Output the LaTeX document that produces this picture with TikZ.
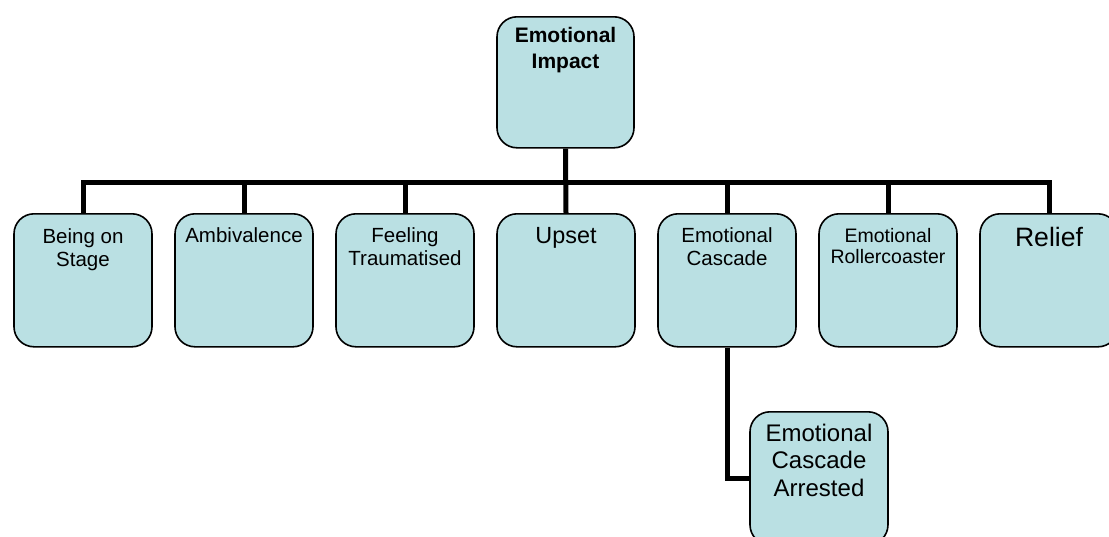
\documentclass[tikz,border=0pt]{standalone}
\usepackage{fontspec}
\setmainfont{Liberation Sans}
\usetikzlibrary{calc}
\definecolor{boxfill}{RGB}{186,224,227}
\tikzset{
  box/.style={draw=black, line width=1.6pt, rounded corners=20pt, fill=boxfill,
    minimum width=138pt, minimum height=133pt, inner sep=0pt, anchor=north},
  % anchored on the baseline of the last line of text
  txt/.style={anchor=base, align=center, inner sep=0pt},
  conn/.style={draw=black, line width=5pt, line join=miter, line cap=butt},
}
\newcommand{\fs}[2]{\fontsize{#1}{#2}\selectfont}
\begin{document}
\begin{tikzpicture}[x=1pt,y=-1pt]
\useasboundingbox (0,0) rectangle (1109,536);
% boxes
\node[box, minimum width=137pt, minimum height=131pt] (root) at (565.5,16) {};
\node[box] (b1) at (83,213) {};
\node[box] (b2) at (244,213) {};
\node[box] (b3) at (405,213) {};
\node[box] (b4) at (566,213) {};
\node[box] (b5) at (727,213) {};
\node[box] (b6) at (888,213) {};
\node[box] (b7) at (1049,213) {};
\node[box] (b8) at (819,411) {};
\coordinate (bar) at (0,182);
% connectors
\draw[conn] (root.south) -- (b4.north);
\draw[conn] (b1.north) -- (b1.north |- bar) -- (b7.north |- bar) -- (b7.north);
\foreach \b in {b2,b3,b5,b6}
  \draw[conn] (\b.north) -- (\b.north |- bar);
\draw[conn] (b5.south) |- (b8.west);
% labels
\node[txt, font=\bfseries\fs{21}{26}] (troot) at ($(root.north)+(0,52)$) {Emotional\\Impact};
\node[txt, font=\fs{20.5}{23}] (t1) at ($(b1.north)+(0,53)$) {Being on\\Stage};
\node[txt, font=\fs{20.5}{23}] (t2) at ($(b2.north)+(0,29)$) {Ambivalence};
\node[txt, font=\fs{20.5}{23}] (t3) at ($(b3.north)+(0,52.5)$) {Feeling\\Traumatised};
\node[txt, font=\fs{23.4}{27}] (t4) at ($(b4.north)+(0,30)$) {Upset};
\node[txt, font=\fs{20.5}{23}] (t5) at ($(b5.north)+(0,52)$) {Emotional\\Cascade};
\node[txt, font=\fs{19.5}{21}] (t6) at ($(b6.north)+(0,50)$) {Emotional\\Rollercoaster};
\node[txt, font=\fs{26.6}{30}] (t7) at ($(b7.north)+(0,33)$) {Relief};
\node[txt, font=\fs{24}{27.5}] (t8) at ($(b8.north)+(0,85)$) {Emotional\\Cascade\\Arrested};
\end{tikzpicture}
\end{document}
